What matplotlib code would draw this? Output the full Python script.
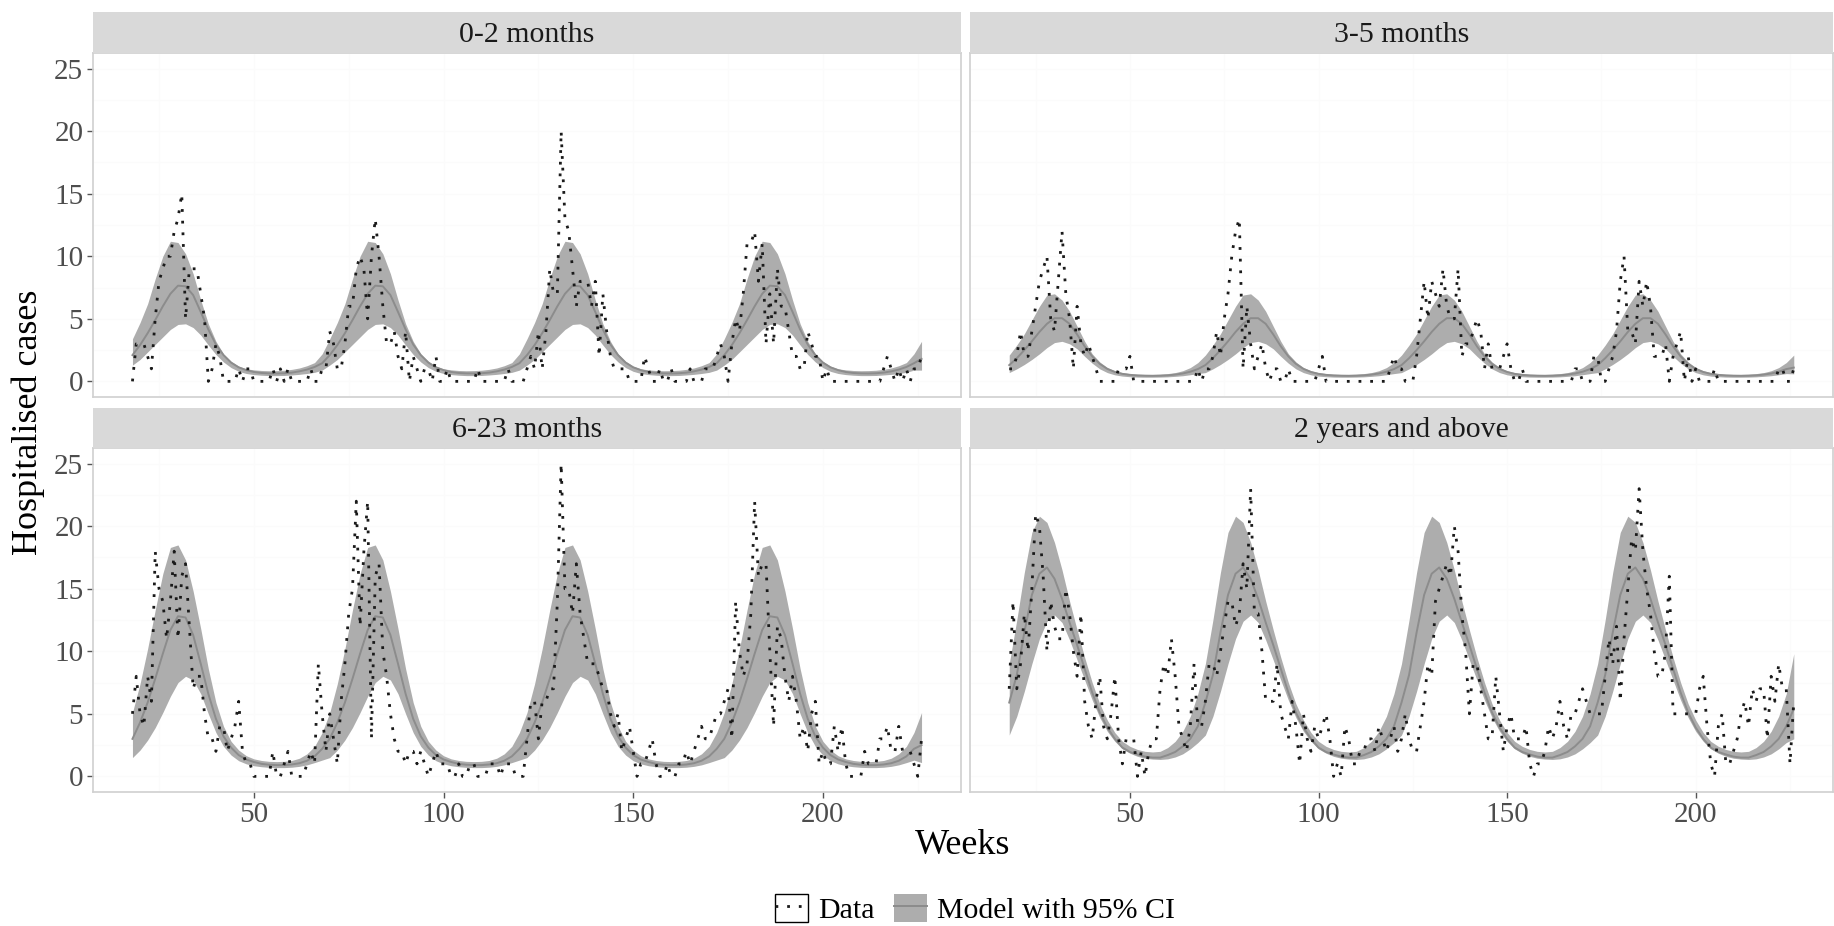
# Weekly hospitalised cases by age group, data vs model with 95% CI
import numpy as np
import matplotlib.pyplot as plt
from matplotlib.lines import Line2D
from matplotlib.patches import Rectangle, Patch

plt.rcParams['font.family'] = ['Liberation Serif', 'DejaVu Serif']

# weeks of observed data and of the model output (model read every 2 weeks)
weeks = np.arange(18, 227)
model_weeks = np.arange(18, 227, 2)

panel_titles = ["0-2 months", "3-5 months", "6-23 months", "2 years and above"]
x_ticks = [50, 100, 150, 200]
y_ticks = [0, 5, 10, 15, 20, 25]

# observed weekly counts, weeks 18..226
data_0_2 = [
    0, 3, 3, 3, 2, 1, 5, 8, 9, 10,
    10, 12, 13, 15, 5, 9, 9, 9, 7, 5,
    0, 1, 3, 2, 0, 0, 0, 0, 1, 0,
    1, 1, 0, 0, 0, 0, 0, 1, 0, 1,
    0, 1, 0, 0, 0, 0, 0, 1, 0, 0,
    1, 1, 4, 3, 1, 1, 3, 6, 6, 9,
    10, 9, 5, 10, 13, 10, 6, 3, 3, 4,
    2, 1, 4, 0, 2, 1, 0, 1, 1, 0,
    2, 0, 0, 1, 0, 0, 0, 0, 0, 0,
    0, 1, 0, 0, 0, 0, 0, 0, 0, 1,
    0, 0, 0, 0, 1, 2, 1, 4, 1, 4,
    9, 7, 7, 20, 13, 12, 9, 6, 8, 8,
    8, 6, 8, 2, 7, 4, 2, 1, 1, 1,
    1, 0, 0, 0, 0, 2, 1, 0, 0, 1,
    0, 0, 1, 0, 0, 0, 0, 1, 0, 0,
    0, 1, 1, 1, 2, 3, 2, 0, 3, 5,
    4, 7, 11, 11, 12, 8, 11, 3, 7, 3,
    9, 6, 6, 4, 2, 2, 1, 1, 4, 3,
    2, 2, 0, 1, 0, 0, 0, 0, 0, 0,
    0, 0, 0, 0, 0, 0, 0, 0, 1, 2,
    1, 0, 1, 0, 1, 0, 1, 1, 2,
]
data_3_5 = [
    1, 1, 2, 4, 2, 2, 4, 6, 8, 9,
    10, 5, 4, 8, 12, 7, 5, 1, 6, 3,
    2, 3, 2, 1, 0, 0, 0, 0, 0, 1,
    1, 1, 2, 0, 0, 0, 0, 0, 0, 0,
    0, 0, 0, 0, 0, 0, 0, 0, 0, 0,
    1, 0, 1, 1, 2, 4, 2, 5, 7, 10,
    12, 13, 1, 6, 3, 1, 2, 3, 1, 0,
    1, 1, 0, 0, 1, 0, 0, 0, 0, 0,
    0, 0, 1, 2, 0, 0, 0, 0, 0, 0,
    0, 0, 0, 0, 0, 0, 0, 0, 0, 0,
    0, 1, 2, 1, 1, 0, 0, 0, 2, 5,
    8, 5, 8, 7, 6, 9, 6, 5, 5, 9,
    2, 3, 3, 4, 5, 4, 1, 3, 1, 1,
    1, 2, 3, 1, 0, 0, 1, 0, 0, 0,
    0, 0, 0, 0, 0, 0, 0, 0, 0, 0,
    1, 1, 0, 0, 0, 2, 2, 0, 0, 1,
    2, 4, 8, 10, 4, 4, 3, 8, 6, 8,
    6, 2, 2, 2, 3, 0, 2, 3, 4, 0,
    2, 0, 1, 0, 0, 0, 0, 1, 0, 0,
    0, 0, 0, 0, 0, 0, 0, 0, 0, 0,
    0, 0, 0, 0, 1, 1, 0, 0, 1,
]
data_6_23 = [
    5, 8, 5, 4, 8, 6, 18, 15, 14, 11,
    14, 18, 11, 16, 17, 12, 7, 8, 8, 5,
    3, 3, 2, 4, 4, 2, 3, 4, 6, 2,
    1, 1, 0, 0, 0, 0, 0, 2, 0, 0,
    1, 2, 0, 0, 0, 0, 1, 2, 1, 9,
    5, 2, 5, 3, 1, 6, 9, 13, 15, 22,
    12, 18, 22, 3, 16, 17, 10, 8, 5, 3,
    2, 2, 1, 2, 2, 1, 2, 1, 0, 1,
    2, 1, 1, 1, 0, 0, 1, 0, 0, 1,
    1, 0, 0, 0, 1, 1, 1, 0, 1, 1,
    1, 0, 0, 0, 3, 6, 6, 3, 6, 6,
    7, 7, 14, 25, 15, 15, 13, 17, 13, 11,
    9, 9, 9, 8, 7, 7, 5, 4, 5, 2,
    3, 4, 2, 0, 1, 1, 2, 3, 1, 0,
    0, 1, 0, 0, 1, 1, 2, 1, 2, 3,
    4, 3, 3, 4, 5, 5, 6, 7, 3, 14,
    10, 8, 9, 13, 22, 16, 17, 17, 10, 4,
    12, 11, 8, 6, 8, 6, 3, 4, 2, 5,
    6, 1, 2, 1, 1, 4, 2, 4, 1, 0,
    0, 0, 0, 2, 1, 1, 1, 3, 3, 4,
    2, 2, 4, 2, 2, 2, 1, 0, 3,
]
data_2y = [
    7, 14, 7, 9, 13, 10, 15, 21, 20, 16,
    10, 14, 12, 11, 11, 15, 13, 10, 8, 13,
    6, 4, 3, 6, 8, 4, 3, 5, 8, 3,
    1, 3, 3, 3, 0, 2, 0, 2, 3, 3,
    7, 9, 8, 11, 8, 4, 3, 2, 4, 9,
    4, 4, 6, 9, 9, 8, 10, 12, 14, 14,
    12, 13, 17, 15, 23, 13, 13, 10, 6, 6,
    6, 9, 5, 4, 3, 6, 4, 1, 5, 3,
    2, 4, 3, 4, 5, 3, 0, 1, 0, 4,
    3, 1, 1, 2, 2, 3, 3, 2, 4, 3,
    2, 3, 4, 2, 3, 5, 3, 2, 2, 4,
    6, 9, 8, 14, 15, 16, 17, 16, 20, 18,
    13, 10, 5, 9, 9, 7, 5, 3, 3, 8,
    5, 2, 4, 5, 3, 3, 3, 4, 1, 0,
    1, 1, 2, 4, 3, 4, 6, 4, 3, 5,
    5, 6, 7, 6, 5, 5, 5, 5, 8, 11,
    9, 12, 6, 11, 15, 19, 18, 23, 18, 15,
    13, 10, 8, 8, 10, 16, 5, 5, 5, 5,
    5, 5, 5, 7, 8, 4, 1, 0, 4, 5,
    1, 1, 2, 3, 5, 6, 4, 7, 6, 7,
    7, 3, 8, 6, 9, 7, 7, 1, 6,
]

# model median, lower and upper 95% CI, weeks 18, 20, ..., 226
mid_0_2 = [
    2.1, 2.9, 3.85, 4.9, 6.0, 7.0, 7.65, 7.6, 6.9, 5.55, 4.15, 2.95, 2.1, 1.5, 1.12, 0.9, 0.75, 0.67, 0.64, 0.63, 0.65, 0.7, 0.8, 0.94, 1.15, 1.45,
    2.1, 2.9, 3.85, 4.9, 6.0, 7.0, 7.65, 7.6, 6.9, 5.55, 4.15, 2.95, 2.1, 1.5, 1.12, 0.9, 0.75, 0.67, 0.64, 0.63, 0.65, 0.7, 0.8, 0.94, 1.15, 1.45,
    2.1, 2.9, 3.85, 4.9, 6.0, 7.0, 7.65, 7.6, 6.9, 5.55, 4.15, 2.95, 2.1, 1.5, 1.12, 0.9, 0.75, 0.67, 0.64, 0.63, 0.65, 0.7, 0.8, 0.94, 1.15, 1.45,
    2.1, 2.9, 3.85, 4.9, 6.0, 7.0, 7.65, 7.6, 6.9, 5.55, 4.15, 2.95, 2.1, 1.5, 1.12, 0.9, 0.75, 0.67, 0.64, 0.63, 0.65, 0.7, 0.8, 0.94, 1.15, 1.45,
    1.8,
]
up_0_2 = [
    3.4, 4.7, 6.2, 8.2, 10.0, 11.2, 11.1, 10.2, 8.6, 6.5, 4.6, 3.2, 2.2, 1.6, 1.22, 1.0, 0.92, 0.87, 0.85, 0.86, 0.89, 0.96, 1.07, 1.25, 1.5, 2.2,
    3.4, 4.7, 6.2, 8.2, 10.0, 11.2, 11.1, 10.2, 8.6, 6.5, 4.6, 3.2, 2.2, 1.6, 1.22, 1.0, 0.92, 0.87, 0.85, 0.86, 0.89, 0.96, 1.07, 1.25, 1.5, 2.2,
    3.4, 4.7, 6.2, 8.2, 10.0, 11.2, 11.1, 10.2, 8.6, 6.5, 4.6, 3.2, 2.2, 1.6, 1.22, 1.0, 0.92, 0.87, 0.85, 0.86, 0.89, 0.96, 1.07, 1.25, 1.5, 2.2,
    3.4, 4.7, 6.2, 8.2, 10.0, 11.2, 11.1, 10.2, 8.6, 6.5, 4.6, 3.2, 2.2, 1.6, 1.22, 1.0, 0.92, 0.87, 0.85, 0.86, 0.89, 0.96, 1.07, 1.25, 1.5, 2.2,
    3.2,
]
lo_0_2 = [
    1.3, 1.75, 2.35, 2.95, 3.55, 4.15, 4.55, 4.6, 4.3, 3.7, 2.9, 2.15, 1.55, 1.1, 0.8, 0.63, 0.54, 0.49, 0.46, 0.46, 0.47, 0.51, 0.56, 0.63, 0.72, 0.9,
    1.3, 1.75, 2.35, 2.95, 3.55, 4.15, 4.55, 4.6, 4.3, 3.7, 2.9, 2.15, 1.55, 1.1, 0.8, 0.63, 0.54, 0.49, 0.46, 0.46, 0.47, 0.51, 0.56, 0.63, 0.72, 0.9,
    1.3, 1.75, 2.35, 2.95, 3.55, 4.15, 4.55, 4.6, 4.3, 3.7, 2.9, 2.15, 1.55, 1.1, 0.8, 0.63, 0.54, 0.49, 0.46, 0.46, 0.47, 0.51, 0.56, 0.63, 0.72, 0.9,
    1.3, 1.75, 2.35, 2.95, 3.55, 4.15, 4.55, 4.6, 4.3, 3.7, 2.9, 2.15, 1.55, 1.1, 0.8, 0.63, 0.54, 0.49, 0.46, 0.46, 0.47, 0.51, 0.56, 0.63, 0.72, 0.9,
    0.9,
]

mid_3_5 = [
    1.3, 1.85, 2.5, 3.2, 3.95, 4.6, 5.05, 5.05, 4.6, 3.75, 2.8, 2.0, 1.4, 1.0, 0.75, 0.6, 0.52, 0.47, 0.45, 0.44, 0.45, 0.48, 0.54, 0.63, 0.77, 0.98,
    1.3, 1.85, 2.5, 3.2, 3.95, 4.6, 5.05, 5.05, 4.6, 3.75, 2.8, 2.0, 1.4, 1.0, 0.75, 0.6, 0.52, 0.47, 0.45, 0.44, 0.45, 0.48, 0.54, 0.63, 0.77, 0.98,
    1.3, 1.85, 2.5, 3.2, 3.95, 4.6, 5.05, 5.05, 4.6, 3.75, 2.8, 2.0, 1.4, 1.0, 0.75, 0.6, 0.52, 0.47, 0.45, 0.44, 0.45, 0.48, 0.54, 0.63, 0.77, 0.98,
    1.3, 1.85, 2.5, 3.2, 3.95, 4.6, 5.05, 5.05, 4.6, 3.75, 2.8, 2.0, 1.4, 1.0, 0.75, 0.6, 0.52, 0.47, 0.45, 0.44, 0.45, 0.48, 0.54, 0.63, 0.77, 0.98,
    1.1,
]
up_3_5 = [
    2.1, 2.9, 3.8, 4.9, 6.0, 6.9, 7.0, 6.5, 5.6, 4.4, 3.2, 2.2, 1.55, 1.1, 0.85, 0.7, 0.62, 0.58, 0.56, 0.56, 0.58, 0.62, 0.7, 0.85, 1.1, 1.5,
    2.1, 2.9, 3.8, 4.9, 6.0, 6.9, 7.0, 6.5, 5.6, 4.4, 3.2, 2.2, 1.55, 1.1, 0.85, 0.7, 0.62, 0.58, 0.56, 0.56, 0.58, 0.62, 0.7, 0.85, 1.1, 1.5,
    2.1, 2.9, 3.8, 4.9, 6.0, 6.9, 7.0, 6.5, 5.6, 4.4, 3.2, 2.2, 1.55, 1.1, 0.85, 0.7, 0.62, 0.58, 0.56, 0.56, 0.58, 0.62, 0.7, 0.85, 1.1, 1.5,
    2.1, 2.9, 3.8, 4.9, 6.0, 6.9, 7.0, 6.5, 5.6, 4.4, 3.2, 2.2, 1.55, 1.1, 0.85, 0.7, 0.62, 0.58, 0.56, 0.56, 0.58, 0.62, 0.7, 0.85, 1.1, 1.5,
    2.1,
]
lo_3_5 = [
    0.7, 1.0, 1.35, 1.75, 2.2, 2.7, 3.1, 3.2, 3.0, 2.6, 2.0, 1.45, 1.0, 0.7, 0.52, 0.42, 0.37, 0.34, 0.33, 0.33, 0.34, 0.36, 0.4, 0.45, 0.53, 0.62,
    0.7, 1.0, 1.35, 1.75, 2.2, 2.7, 3.1, 3.2, 3.0, 2.6, 2.0, 1.45, 1.0, 0.7, 0.52, 0.42, 0.37, 0.34, 0.33, 0.33, 0.34, 0.36, 0.4, 0.45, 0.53, 0.62,
    0.7, 1.0, 1.35, 1.75, 2.2, 2.7, 3.1, 3.2, 3.0, 2.6, 2.0, 1.45, 1.0, 0.7, 0.52, 0.42, 0.37, 0.34, 0.33, 0.33, 0.34, 0.36, 0.4, 0.45, 0.53, 0.62,
    0.7, 1.0, 1.35, 1.75, 2.2, 2.7, 3.1, 3.2, 3.0, 2.6, 2.0, 1.45, 1.0, 0.7, 0.52, 0.42, 0.37, 0.34, 0.33, 0.33, 0.34, 0.36, 0.4, 0.45, 0.53, 0.62,
    0.6,
]

mid_6_23 = [
    3.0, 4.3, 5.9, 7.8, 9.8, 11.7, 12.8, 12.7, 11.3, 9.0, 6.6, 4.6, 3.2, 2.3, 1.7, 1.35, 1.15, 1.0, 0.93, 0.9, 0.9, 0.95, 1.05, 1.25, 1.6, 2.2,
    3.0, 4.3, 5.9, 7.8, 9.8, 11.7, 12.8, 12.7, 11.3, 9.0, 6.6, 4.6, 3.2, 2.3, 1.7, 1.35, 1.15, 1.0, 0.93, 0.9, 0.9, 0.95, 1.05, 1.25, 1.6, 2.2,
    3.0, 4.3, 5.9, 7.8, 9.8, 11.7, 12.8, 12.7, 11.3, 9.0, 6.6, 4.6, 3.2, 2.3, 1.7, 1.35, 1.15, 1.0, 0.93, 0.9, 0.9, 0.95, 1.05, 1.25, 1.6, 2.2,
    3.0, 4.3, 5.9, 7.8, 9.8, 11.7, 12.8, 12.7, 11.3, 9.0, 6.6, 4.6, 3.2, 2.3, 1.7, 1.35, 1.15, 1.0, 0.93, 0.9, 0.9, 0.95, 1.05, 1.25, 1.6, 2.2,
    2.5,
]
up_6_23 = [
    5.1, 7.4, 10.2, 13.3, 16.2, 18.3, 18.5, 17.3, 14.8, 11.8, 8.6, 5.9, 4.0, 2.8, 2.1, 1.65, 1.4, 1.27, 1.2, 1.18, 1.2, 1.27, 1.45, 1.8, 2.4, 3.5,
    5.1, 7.4, 10.2, 13.3, 16.2, 18.3, 18.5, 17.3, 14.8, 11.8, 8.6, 5.9, 4.0, 2.8, 2.1, 1.65, 1.4, 1.27, 1.2, 1.18, 1.2, 1.27, 1.45, 1.8, 2.4, 3.5,
    5.1, 7.4, 10.2, 13.3, 16.2, 18.3, 18.5, 17.3, 14.8, 11.8, 8.6, 5.9, 4.0, 2.8, 2.1, 1.65, 1.4, 1.27, 1.2, 1.18, 1.2, 1.27, 1.45, 1.8, 2.4, 3.5,
    5.1, 7.4, 10.2, 13.3, 16.2, 18.3, 18.5, 17.3, 14.8, 11.8, 8.6, 5.9, 4.0, 2.8, 2.1, 1.65, 1.4, 1.27, 1.2, 1.18, 1.2, 1.27, 1.45, 1.8, 2.4, 3.5,
    5.1,
]
lo_6_23 = [
    1.5, 2.1, 2.9, 3.9, 5.1, 6.4, 7.5, 8.0, 7.7, 6.6, 5.0, 3.5, 2.4, 1.7, 1.25, 1.0, 0.85, 0.77, 0.72, 0.7, 0.7, 0.73, 0.8, 0.92, 1.1, 1.3,
    1.5, 2.1, 2.9, 3.9, 5.1, 6.4, 7.5, 8.0, 7.7, 6.6, 5.0, 3.5, 2.4, 1.7, 1.25, 1.0, 0.85, 0.77, 0.72, 0.7, 0.7, 0.73, 0.8, 0.92, 1.1, 1.3,
    1.5, 2.1, 2.9, 3.9, 5.1, 6.4, 7.5, 8.0, 7.7, 6.6, 5.0, 3.5, 2.4, 1.7, 1.25, 1.0, 0.85, 0.77, 0.72, 0.7, 0.7, 0.73, 0.8, 0.92, 1.1, 1.3,
    1.5, 2.1, 2.9, 3.9, 5.1, 6.4, 7.5, 8.0, 7.7, 6.6, 5.0, 3.5, 2.4, 1.7, 1.25, 1.0, 0.85, 0.77, 0.72, 0.7, 0.7, 0.73, 0.8, 0.92, 1.1, 1.3,
    1.1,
]

mid_2y = [
    5.9, 8.1, 11.5, 14.5, 16.2, 16.7, 15.8, 14.2, 12.3, 10.5, 8.6, 6.7, 5.1, 3.9, 3.0, 2.3, 1.95, 1.75, 1.58, 1.5, 1.5, 1.7, 1.95, 2.4, 3.0, 4.0,
    5.9, 8.1, 11.5, 14.5, 16.2, 16.7, 15.8, 14.2, 12.3, 10.5, 8.6, 6.7, 5.1, 3.9, 3.0, 2.3, 1.95, 1.75, 1.58, 1.5, 1.5, 1.7, 1.95, 2.4, 3.0, 4.0,
    5.9, 8.1, 11.5, 14.5, 16.2, 16.7, 15.8, 14.2, 12.3, 10.5, 8.6, 6.7, 5.1, 3.9, 3.0, 2.3, 1.95, 1.75, 1.58, 1.5, 1.5, 1.7, 1.95, 2.4, 3.0, 4.0,
    5.9, 8.1, 11.5, 14.5, 16.2, 16.7, 15.8, 14.2, 12.3, 10.5, 8.6, 6.7, 5.1, 3.9, 3.0, 2.3, 1.95, 1.75, 1.58, 1.5, 1.5, 1.7, 1.95, 2.4, 3.0, 4.0,
    5.4,
]
up_2y = [
    9.0, 12.5, 16.3, 19.5, 20.8, 20.3, 18.7, 16.5, 14.0, 11.7, 9.5, 7.5, 5.8, 4.5, 3.5, 2.8, 2.4, 2.15, 2.0, 1.95, 2.0, 2.3, 2.8, 3.6, 4.8, 6.6,
    9.0, 12.5, 16.3, 19.5, 20.8, 20.3, 18.7, 16.5, 14.0, 11.7, 9.5, 7.5, 5.8, 4.5, 3.5, 2.8, 2.4, 2.15, 2.0, 1.95, 2.0, 2.3, 2.8, 3.6, 4.8, 6.6,
    9.0, 12.5, 16.3, 19.5, 20.8, 20.3, 18.7, 16.5, 14.0, 11.7, 9.5, 7.5, 5.8, 4.5, 3.5, 2.8, 2.4, 2.15, 2.0, 1.95, 2.0, 2.3, 2.8, 3.6, 4.8, 6.6,
    9.0, 12.5, 16.3, 19.5, 20.8, 20.3, 18.7, 16.5, 14.0, 11.7, 9.5, 7.5, 5.8, 4.5, 3.5, 2.8, 2.4, 2.15, 2.0, 1.95, 2.0, 2.3, 2.8, 3.6, 4.8, 6.6,
    9.8,
]
lo_2y = [
    3.3, 4.8, 6.8, 9.0, 11.0, 12.4, 12.9, 12.3, 10.9, 9.3, 7.7, 6.1, 4.7, 3.6, 2.8, 2.2, 1.85, 1.6, 1.45, 1.38, 1.35, 1.4, 1.55, 1.8, 2.2, 2.7,
    3.3, 4.8, 6.8, 9.0, 11.0, 12.4, 12.9, 12.3, 10.9, 9.3, 7.7, 6.1, 4.7, 3.6, 2.8, 2.2, 1.85, 1.6, 1.45, 1.38, 1.35, 1.4, 1.55, 1.8, 2.2, 2.7,
    3.3, 4.8, 6.8, 9.0, 11.0, 12.4, 12.9, 12.3, 10.9, 9.3, 7.7, 6.1, 4.7, 3.6, 2.8, 2.2, 1.85, 1.6, 1.45, 1.38, 1.35, 1.4, 1.55, 1.8, 2.2, 2.7,
    3.3, 4.8, 6.8, 9.0, 11.0, 12.4, 12.9, 12.3, 10.9, 9.3, 7.7, 6.1, 4.7, 3.6, 2.8, 2.2, 1.85, 1.6, 1.45, 1.38, 1.35, 1.4, 1.55, 1.8, 2.2, 2.7,
    3.0,
]

panels = [
    (data_0_2, mid_0_2, lo_0_2, up_0_2),
    (data_3_5, mid_3_5, lo_3_5, up_3_5),
    (data_6_23, mid_6_23, lo_6_23, up_6_23),
    (data_2y, mid_2y, lo_2y, up_2y),
]

BAND = '#adadad'
LINE = '#8c8c8c'
DOT = '#1a1a1a'
dotted = (0, (1, 3.2))

W, H = 1834, 926
fig = plt.figure(figsize=(W / 100, H / 100), dpi=100)


def frac(x0, y0, x1, y1):
    # pixel box (top-left origin) -> figure fraction
    return [x0 / W, 1 - y1 / H, (x1 - x0) / W, (y1 - y0) / H]


panel_px = [(93, 53, 961, 397), (970, 53, 1833, 397),
            (93, 448, 961, 792), (970, 448, 1833, 792)]
strip_px = [(12, 53), (12, 53), (408, 448), (408, 448)]

for i, (d, mid, lo, up) in enumerate(panels):
    x0, y0, x1, y1 = panel_px[i]
    ax = fig.add_axes(frac(x0, y0, x1, y1))
    ax.fill_between(model_weeks, lo, up, color=BAND, lw=0, zorder=2)
    ax.plot(model_weeks, mid, color=LINE, lw=1.4, zorder=3)
    ax.plot(weeks, d, color=DOT, lw=2.0, linestyle=dotted, zorder=4)

    ax.set_xlim(7.6, 236.4)
    ax.set_ylim(-1.25, 26.25)
    ax.set_xticks(x_ticks)
    ax.set_yticks(y_ticks)
    ax.set_xticks(np.arange(25, 236, 50), minor=True)
    ax.set_yticks(np.arange(2.5, 26, 5), minor=True)
    # ggplot grid is almost invisible here
    ax.grid(which='both', color='#fbfbfb', lw=0.8)
    ax.set_axisbelow(True)
    for sp in ax.spines.values():
        sp.set_color('#d0d0d0')
        sp.set_linewidth(1.2)
    ax.tick_params(which='minor', length=0)
    ax.tick_params(which='major', length=4, width=1, color='#555555',
                   labelcolor='#4d4d4d', labelsize=21, pad=3)
    if i < 2:
        ax.tick_params(axis='x', which='both', bottom=False, labelbottom=False)
    if i % 2 == 1:
        ax.tick_params(axis='y', which='both', left=False, labelleft=False)

    # facet strip
    sy0, sy1 = strip_px[i]
    sax = fig.add_axes(frac(x0, sy0, x1, sy1))
    sax.set_facecolor('#d9d9d9')
    sax.set_xticks([])
    sax.set_yticks([])
    for sp in sax.spines.values():
        sp.set_visible(False)
    sax.text(0.5, 0.44, panel_titles[i], ha='center', va='center',
             fontsize=21.5, color='#1a1a1a', transform=sax.transAxes)

fig.text(28 / W, 1 - 422.5 / H, 'Hospitalised cases', rotation=90,
         ha='center', va='center', fontsize=26, color='black')
fig.text(963 / W, 1 - 846 / H, 'Weeks', ha='center', va='center',
         fontsize=26, color='black')

h_data = (Rectangle((0, 0), 1, 1, facecolor='white', edgecolor='black', lw=1.0),
          Line2D([], [], color=DOT, lw=2.0, linestyle=dotted))
h_model = (Patch(facecolor=BAND, edgecolor='none'),
           Line2D([], [], color=LINE, lw=1.4))
fig.legend([h_data, h_model], ['Data', 'Model with 95% CI'], loc='center',
           bbox_to_anchor=(975 / W, 1 - 909 / H), ncol=2, frameon=False,
           fontsize=21.5, handlelength=1.1, handleheight=1.1,
           handletextpad=0.35, columnspacing=0.65)

fig.savefig('out.png', dpi=100)
